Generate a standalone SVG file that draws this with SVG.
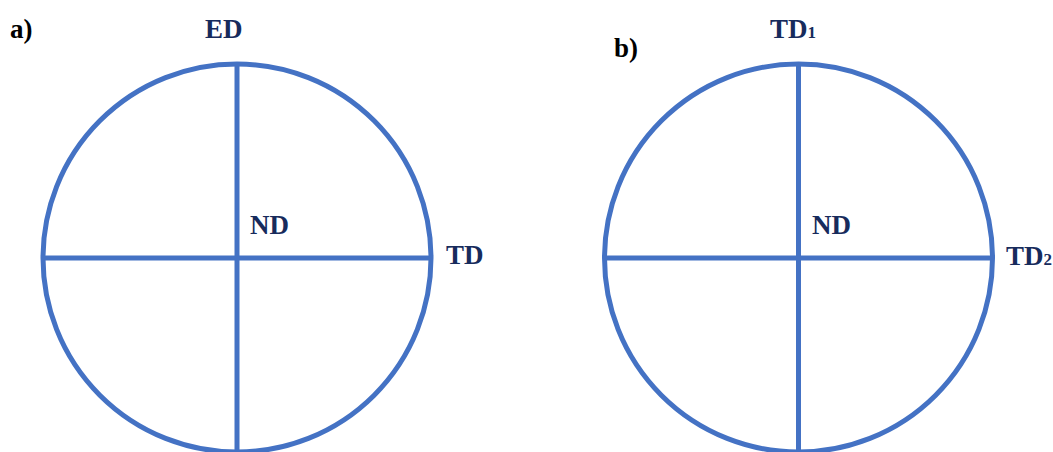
<svg xmlns="http://www.w3.org/2000/svg" width="1053" height="452" viewBox="0 0 1053 452">
<style>
.c{fill:none;stroke:#4472C4;stroke-width:5}
.l{stroke:#4472C4;stroke-width:5}
.t{font-family:"Liberation Serif",serif;font-weight:bold;font-size:27px;fill:#172B5C}
.p{font-family:"Liberation Serif",serif;font-weight:bold;font-size:27px;fill:#000}
.s{font-size:17px}
</style>
<rect width="1053" height="452" fill="#fff"/>
<g id="panel-a">
<circle class="c" cx="237" cy="258" r="194"/>
<g id="connectors-a">
<line class="l" x1="237" y1="64" x2="237" y2="452"/>
<line class="l" x1="43" y1="258" x2="431" y2="258"/>
</g>
<text class="p" x="10" y="38">a)</text>
<text class="t" x="205" y="38">ED</text>
<text class="t" x="250" y="234">ND</text>
<text class="t" x="446" y="264">TD</text>
</g>
<g id="panel-b">
<circle class="c" cx="798.5" cy="258" r="194"/>
<g id="connectors-b">
<line class="l" x1="798.5" y1="64" x2="798.5" y2="452"/>
<line class="l" x1="604.5" y1="258" x2="992.5" y2="258"/>
</g>
<text class="p" x="614" y="57">b)</text>
<text class="t" x="770" y="38">TD<tspan class="s">1</tspan></text>
<text class="t" x="812" y="234">ND</text>
<text class="t" x="1006" y="265">TD<tspan class="s">2</tspan></text>
</g>
</svg>
